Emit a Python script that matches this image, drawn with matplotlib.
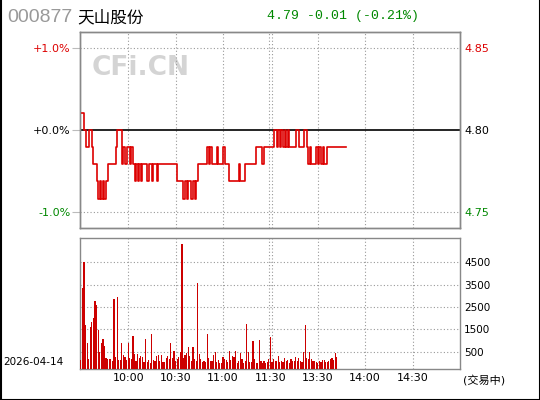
import numpy as np
import matplotlib
matplotlib.use("Agg")
import matplotlib.pyplot as plt

plt.rcParams['font.family'] = ['DejaVu Sans', 'Noto Sans CJK SC']

code = "000877"
name = "天山股份"
pre_close = 4.80
last = 4.79
change = -0.01
change_pct = -0.21
date = "2026-04-14"
status = "(交易中)"

# minute prices: 9:30-11:29 and 13:00-13:48
price_am = [4.81, 4.81, 4.80, 4.79, 4.79, 4.80, 4.80, 4.79, 4.78, 4.78,
            4.77, 4.76, 4.77, 4.76, 4.77, 4.76, 4.77, 4.78, 4.78, 4.78,
            4.78, 4.78, 4.79, 4.80, 4.80, 4.80, 4.78, 4.79, 4.78, 4.79,
            4.79, 4.78, 4.79, 4.78, 4.77, 4.78, 4.77, 4.78, 4.77, 4.78,
            4.78, 4.78, 4.77, 4.78, 4.78, 4.77, 4.78, 4.78, 4.77, 4.78,
            4.78, 4.78, 4.78, 4.78, 4.78, 4.78, 4.78, 4.78, 4.78, 4.78,
            4.78, 4.77, 4.77, 4.77, 4.77, 4.76, 4.77, 4.76, 4.77, 4.77,
            4.76, 4.77, 4.76, 4.77, 4.78, 4.78, 4.78, 4.78, 4.78, 4.78,
            4.79, 4.78, 4.79, 4.78, 4.78, 4.78, 4.79, 4.78, 4.78, 4.78,
            4.79, 4.78, 4.78, 4.78, 4.77, 4.77, 4.77, 4.77, 4.77, 4.77,
            4.78, 4.77, 4.77, 4.77, 4.78, 4.78, 4.78, 4.78, 4.78, 4.78,
            4.78, 4.79, 4.79, 4.79, 4.79, 4.78, 4.79, 4.79, 4.79, 4.79]
price_pm = [4.79, 4.79, 4.80, 4.80, 4.79, 4.80, 4.79, 4.80, 4.79, 4.80,
            4.79, 4.80, 4.79, 4.79, 4.79, 4.79, 4.80, 4.80, 4.79, 4.79,
            4.79, 4.80, 4.80, 4.79, 4.78, 4.79, 4.78, 4.78, 4.78, 4.79,
            4.78, 4.79, 4.78, 4.79, 4.78, 4.78, 4.79, 4.79, 4.79, 4.79,
            4.79, 4.79, 4.79, 4.79, 4.79, 4.79, 4.79, 4.79, 4.79]

# minute volume (hands)
vol_am = [160, 3340, 4510, 1690, 900, 210, 1620, 1840, 2010, 2760,
          2590, 1490, 520, 900, 1090, 780, 250, 210, 210, 210,
          120, 2850, 290, 2940, 160, 160, 900, 380, 290, 160,
          910, 250, 210, 1220, 430, 120, 430, 250, 340, 290,
          70, 1090, 70, 160, 30, 1310, 160, 120, 340, 380,
          120, 380, 70, 70, 250, 340, 210, 910, 250, 560,
          120, 210, 290, 515, 5290, 250, 380, 470, 735, 340,
          120, 735, 210, 120, 3560, 430, 210, 75, 120, 75,
          1310, 250, 120, 120, 380, 515, 75, 160, 30, 30,
          290, 210, 160, 75, 560, 160, 340, 290, 560, 30,
          120, 470, 210, 30, 120, 1750, 515, 75, 75, 1000,
          210, 30, 30, 1040, 120, 30, 120, 30, 75, 210]
vol_pm = [1180, 75, 210, 120, 120, 340, 75, 120, 75, 250,
          120, 160, 30, 210, 120, 120, 290, 120, 250, 120,
          75, 515, 1700, 250, 210, 515, 210, 120, 120, 75,
          30, 120, 75, 160, 160, 75, 75, 120, 210, 250,
          160, 470, 290]

time_ticks = [30, 60, 90, 120, 150, 180, 210]
time_labels = ["10:00", "10:30", "11:00", "11:30", "13:30", "14:00", "14:30"]
pct_ticks = [-0.01, 0.0, 0.01]
vol_ticks = [500, 1500, 2500, 3500, 4500]

red = '#dd0000'
green = '#008800'
grid_kw = dict(color='#999999', lw=0.8, linestyle=(0, (1, 2)))

fig = plt.figure(figsize=(5.4, 4.0), dpi=100)
W, H = 540.0, 400.0

# ---- price panel
ax = fig.add_axes([80 / W, 1 - 228 / H, 380 / W, 196 / H])
price = np.array(price_am + price_pm)
x = np.arange(len(price))
ax.plot(x, price, color=red, lw=1.2, drawstyle='steps-post', zorder=3)
ax.axhline(pre_close, color='black', lw=1.2, zorder=2)
half = pre_close * 0.0119
ax.set_ylim(pre_close - half, pre_close + half)
ax.set_xlim(-0.5, 240)
levels = [pre_close * (1 + p) for p in pct_ticks]
for lv in levels:
    if lv != pre_close:
        ax.axhline(lv, **grid_kw, zorder=1)
for t in time_ticks:
    ax.axvline(t if t != 120 else 119.4, **grid_kw, zorder=1)
ax.axvline(120.8, **grid_kw, zorder=1)
ax.set_xticks([])
ax.set_yticks(levels, ["%+.1f%%" % (p * 100) for p in pct_ticks])
cols = [green, 'black', red]
for lab, c in zip(ax.get_yticklabels(), cols):
    lab.set_color(c)
ax.tick_params(axis='y', length=6, width=0.8, color='#bbbbbb', labelsize=8, pad=1)
ax2 = ax.twinx()
ax2.set_ylim(ax.get_ylim())
ax2.set_yticks(levels, ["%.2f" % lv for lv in levels])
for lab, c in zip(ax2.get_yticklabels(), cols):
    lab.set_color(c)
ax2.tick_params(axis='y', length=0, labelsize=8, pad=3)
for a in (ax, ax2):
    for s in a.spines.values():
        s.set_color('#888888')
        s.set_linewidth(1.0)

ax.text(0.03, 0.78, "CFi.CN", transform=ax.transAxes, fontsize=19,
        fontweight='bold', color='#d4d4d4', va='baseline', zorder=0)

# ---- volume panel
axv = fig.add_axes([80 / W, 1 - 369 / H, 380 / W, 131 / H])
vlo, vhi = -256, 5567
xa = np.arange(len(vol_am))
xp = 120 + np.arange(len(vol_pm))
vol = np.array(vol_am + vol_pm)
xv = np.concatenate([xa, xp])
axv.bar(xv, vol - vlo, bottom=vlo, width=0.75, color='#cc0000', zorder=3)
axv.set_ylim(vlo, vhi)
axv.set_xlim(-0.5, 240)
for v in vol_ticks:
    axv.axhline(v, **grid_kw, zorder=1)
for t in time_ticks:
    axv.axvline(t if t != 120 else 119.4, **grid_kw, zorder=1)
axv.axvline(120.8, **grid_kw, zorder=1)
axv.yaxis.tick_right()
axv.set_yticks(vol_ticks, [str(v) for v in vol_ticks])
axv.set_xticks(time_ticks, time_labels)
axv.tick_params(axis='y', length=0, labelsize=7.5, pad=3)
axv.tick_params(axis='x', length=0, labelsize=8, pad=3)
for s in axv.spines.values():
    s.set_color('#888888')
    s.set_linewidth(1.0)

# ---- header and footer texts
fig.text(7 / W, 1 - 18 / H, code, fontsize=14, family='Liberation Sans',
         color='#999999', va='center')
fig.text(77 / W, 1 - 18 / H, name, fontsize=12, family='Noto Sans CJK SC',
         color='black', va='center')
fig.text(343 / W, 1 - 16 / H, "%.2f %+.2f (%+.2f%%)" % (last, change, change_pct),
         fontsize=9.5, family='Liberation Mono', color=green, ha='center', va='center')
fig.text(3 / W, 1 - 362 / H, date, fontsize=7.5, va='center')
fig.text(463 / W, 1 - 380 / H, status, fontsize=8, va='center')

# outer frame
for xs, ys in (([0.5, 0.5], [0, H]), ([W - 0.5, W - 0.5], [0, H]), ([0, W], [0.5, 0.5])):
    fig.add_artist(plt.Line2D(np.array(xs) / W, np.array(ys) / H, color='black', lw=1.5))

fig.savefig("out.png", dpi=100)
